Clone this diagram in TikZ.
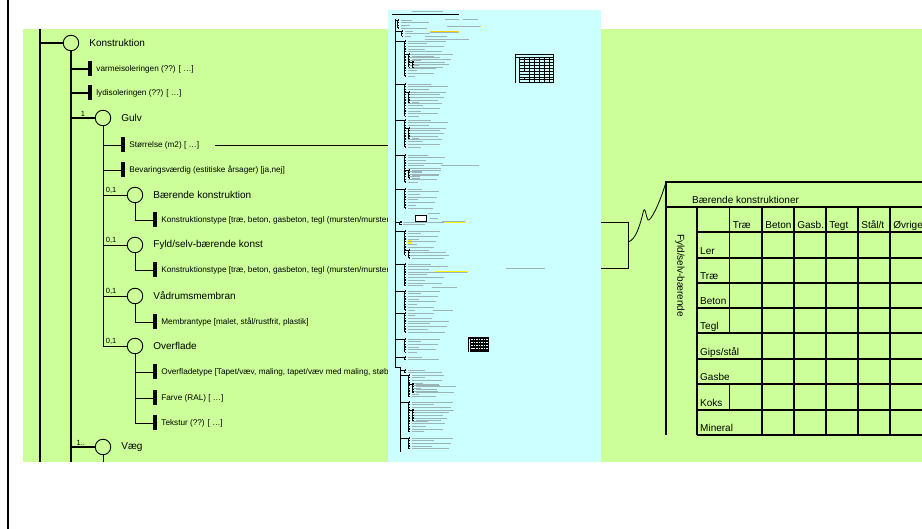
\documentclass[tikz,border=0pt]{standalone}
\usepackage{fontspec}
\setmainfont{Liberation Sans}
\usetikzlibrary{positioning}

\definecolor{diagreen}{HTML}{CCFF99}
\definecolor{thumbcyan}{HTML}{CCFFFF}
\definecolor{hilite}{HTML}{FFCC00}
\definecolor{minigrey}{HTML}{9DB4B4}

\tikzset{
  ent/.style={circle, draw, line width=0.9pt, fill=diagreen, minimum size=15.5pt, inner sep=0pt},
  attr/.style={fill=black, minimum width=4pt, minimum height=15pt, inner sep=0pt},
  ename/.style={font=\fontsize{10}{12}\selectfont, inner sep=0pt},
  aname/.style={font=\fontsize{8.2}{10}\selectfont, inner sep=0pt},
  mult/.style={font=\fontsize{7.5}{9}\selectfont, inner sep=1pt},
  trunk/.style={line width=1.6pt},
  branch/.style={line width=1.2pt},
  twig/.style={line width=0.9pt},
  tabline/.style={line width=1.3pt},
  tabtxt/.style={font=\fontsize{10}{12}\selectfont, inner sep=0pt, anchor=base west},
  thumb/.style={fill=thumbcyan, minimum width=213pt, minimum height=452pt, inner sep=0pt},
  minitree/.style={line width=0.8pt},
  minitxt/.style={draw=minigrey, line width=0.6pt},
}

% gitter til tabellen, lokale koordinater
\newcommand{\tablegrid}{%
  \draw[tabline] (0,253) -- (0,0) -- (256,0);
  \draw[tabline] (0,25) -- (256,25);
  \draw[tabline] (31,25) -- (31,253);
  \foreach \ry in {50,76,101,126,151,177,202,228,253}
    \draw[tabline] (31,\ry) -- (256,\ry);
  \draw[tabline] (63.5,25) -- (63.5,151) (63.5,202) -- (63.5,228);
  \foreach \cx in {96,128,160,192,224}
    \draw[tabline] (\cx,25) -- (\cx,253);
}

\begin{document}
\begin{tikzpicture}[x=1pt, y=-1pt]

    \useasboundingbox (0,0) rectangle (922,529);
    \clip (0,0) rectangle (922,529);

    % baggrund
    \fill[diagreen] (23,29) rectangle (922,462);
    \draw[line width=2.5pt] (8,0) -- (8,529);

    \coordinate (top) at (40,29);
    \coordinate (bot) at (40,462);

    % entiteter
    \node[ent] (konstr) at (71,43) {};
    \node[ename, right=10pt of konstr] (konstrT) {Konstruktion};
    \node[ent] (gulv) at (103,118) {};
    \node[ename, right=10pt of gulv] (gulvT) {Gulv};
    \node[ent] (baer) at (135,195) {};
    \node[ename, right=10pt of baer] (baerT) {Bærende konstruktion};
    \node[ent] (fyld) at (135,245) {};
    \node[ename, right=10pt of fyld] (fyldT) {Fyld/selv-bærende konst};
    \node[ent] (vaad) at (135,296) {};
    \node[ename, right=10pt of vaad] (vaadT) {Vådrumsmembran};
    \node[ent] (overfl) at (135,346) {};
    \node[ename, right=10pt of overfl] (overflT) {Overflade};
    \node[ent] (vaeg) at (103,447) {};
    \node[ename, right=10pt of vaeg] (vaegT) {Væg};

    % attributter
    \node[attr] (varme) at (90,69) {};
    \node[aname, right=4pt of varme] (varmeT) {varmeisoleringen (??) [ …]};
    \node[attr] (lyd) at (90,93) {};
    \node[aname, right=4pt of lyd] (lydT) {lydisoleringen (??) [ …]};
    \node[attr] (stoer) at (123,145) {};
    \node[aname, right=4pt of stoer] (stoerT) {Størrelse (m2) [ …]};
    \node[attr] (bevar) at (123,170) {};
    \node[aname, right=4pt of bevar] (bevarT) {Bevaringsværdig (estitiske årsager) [ja,nej]};
    \node[attr] (baerK) at (155,220) {};
    \node[aname, right=4pt of baerK] (baerKT) {Konstruktionstype [træ, beton, gasbeton, tegl (mursten/mursten)]};
    \node[attr] (fyldK) at (155,270) {};
    \node[aname, right=4pt of fyldK] (fyldKT) {Konstruktionstype [træ, beton, gasbeton, tegl (mursten/mursten)]};
    \node[attr] (membr) at (155,322) {};
    \node[aname, right=4pt of membr] (membrT) {Membrantype [malet, stål/rustfrit, plastik]};
    \node[attr] (oftype) at (155,372) {};
    \node[aname, right=4pt of oftype] (oftypeT) {Overfladetype [Tapet/væv, maling, tapet/væv med maling, støbning]};
    \node[attr] (farve) at (155,398) {};
    \node[aname, right=4pt of farve] (farveT) {Farve (RAL) [ …]};
    \node[attr] (tekst) at (155,423) {};
    \node[aname, right=4pt of tekst] (tekstT) {Tekstur (??) [ …]};

    % træets linjer
    \draw[trunk] (top) -- (bot);
    \draw[branch] (top |- konstr) -- (konstr);
    \draw[trunk] (konstr) -- (konstr |- bot);
    \draw[branch] (konstr.south) |- (varme.west);
    \draw[branch] (konstr.south) |- (lyd.west);
    \draw[branch] (konstr.south) |- (gulv.west) node[mult, pos=0.75, above] {1};
    \draw[branch] (konstr.south) |- (vaeg.west) node[mult, pos=0.75, above, xshift=-2pt] {1..};
    \draw[twig] (vaeg) -- (vaeg |- bot);

    \draw[twig] (gulv.south) |- (stoer.west);
    \draw[twig] (gulv.south) |- (bevar.west);
    \foreach \ent in {baer, fyld, vaad, overfl}
        \draw[twig] (gulv.south) |- (\ent.west) node[mult, pos=0.5, above right, xshift=1.5pt] {0,1};

    \draw[twig] (baer.south) |- (baerK.west);
    \draw[twig] (fyld.south) |- (fyldK.west);
    \draw[twig] (vaad.south) |- (membr.west);
    \foreach \att in {oftype, farve, tekst}
        \draw[twig] (overfl.south) |- (\att.west);

    % miniature af hele modellen
    \node[thumb] (thumb) at (494.5,236) {};
    \coordinate (sizeref) at (215,145);
    \draw[twig] (sizeref) -- (sizeref -| thumb.west);

    \draw[line width=0.6pt] (392,14) -- (459,14);
    \draw[minitxt] (412,11.5) -- (443,11.5);
    \fill[hilite] (447,25.7) rectangle (481,27.5);
    \fill[hilite] (430,31) rectangle (459,32.8);
    \fill[yellow] (442,220.8) rectangle (466,222.7);
    \fill[yellow] (435,271) rectangle (468,273.5);
    \fill[yellow] (408,240) rectangle (411.5,245);
    \foreach \sx/\sy/\sl in {445/19/14, 447/26.6/33, 430/31.9/28, 425/36/22, 425/39/44,
                             441/165/38, 442/221.7/23, 435/272.2/32, 506/268/39, 432/287/25,
                             433/310/20, 429/410/25}
        \draw[minitxt] (\sx,\sy) -- ++(\sl,0);
    \draw[minitxt] (463,19) -- (478,19);
    \draw[minitree, fill=white] (415,215) rectangle (426,221);
    \draw[minitxt] (428,213) -- ++(12,0) (430,218) -- ++(8,0);

    \draw[minitree] (395.3,19) -- (395.3,367) -- (400.3,367) -- (400.3,452);
    \foreach \px/\xb/\yt/\nr in {395.3/397.5/20/4, 395.3/401.5/31/3, 395.3/404.5/41/14,
                                 404.5/408.5/54/6, 408.5/412/62/3, 395.3/404.5/84/13,
                                 404.5/408.5/92/5, 395.3/404.5/120/11, 404.5/408.5/128/5,
                                 395.3/404.5/155/11, 404.5/408.5/170/4, 395.3/404.5/189/8,
                                 395.3/399.7/222/2, 395.3/404.5/231/10, 404.5/408.5/250/4,
                                 395.3/404.5/264/9, 395.3/404.5/291/8, 395.3/404.5/313/8,
                                 395.3/404.5/339/6, 395.3/404.5/357/2, 400.3/404.5/370/2,
                                 400.3/408.5/375/9, 408.5/412/384/4, 400.3/408.5/402/12,
                                 408.5/412/410/5, 400.3/408.5/438/5} {
        \draw[minitree] (\px,\yt) -- (\xb,\yt) -- (\xb,{\yt+2.7*(\nr-1)});
        \foreach \k in {1,...,\nr} {
            \pgfmathsetmacro{\ypos}{\yt+2.7*(\k-1)}
            \pgfmathsetmacro{\len}{6+mod(\k*17+\yt*3,36)}
            \fill (\xb,\ypos-0.7) rectangle ++(1.8,1.4);
            \draw[minitxt] (\xb+3.5,\ypos) -- ++(\len,0);
        }
    }

    % små tabeller i miniaturen
    \begin{scope}[shift={(515,54)}, xscale=0.151, yscale=0.113, tabline/.style={line width=0.6pt}]
        \tablegrid
        \draw[tabline] (256,0) -- (256,253);
    \end{scope}
    \begin{scope}[shift={(468.3,337.3)}, xscale=0.076, yscale=0.057, tabline/.style={line width=0.5pt}]
        \tablegrid
        \draw[tabline] (256,0) -- (256,253);
    \end{scope}

    % henvisning til tabellen
    \coordinate (brtop) at (628,222);
    \coordinate (brbot) at (628,268);
    \coordinate (brk) at (628,242);
    \coordinate (tbl) at (666,182);
    \draw[line width=0.8pt] (thumb.east |- brtop) -- (brtop) -- (brbot) -- (thumb.east |- brbot);
    \draw[line width=0.8pt] (brk) .. controls (636,240) and (640,225) .. (643.5,211)
        .. controls (645.5,205) and (646.5,222) .. (649,220)
        .. controls (654,216) and (662,196) .. (tbl);

    % tabel
    \begin{scope}[shift={(tbl)}]
        \tablegrid
    \end{scope}
    \node[tabtxt] (tabtitle) at (692,203.5) {Bærende konstruktioner};
    \node[tabtxt, anchor=west, rotate=-90] (tabside) at (680,234) {Fyld/selv-bærende};
    \foreach \cx/\htxt [count=\cc] in {729.5/Træ, 762/Beton, 794/Gasb., 826/Tegt, 858/{Stål/t}, 890/Øvrige}
        \node[tabtxt] (head\cc) at (\cx+3.2,229) {\htxt};
    \foreach \ry/\rtxt [count=\rr] in {255/Ler, 280/Træ, 305/Beton, 330/Tegl, 356/{Gips/stål},
                                    381/Gasbe, 407/Koks, 432/Mineral}
        \node[tabtxt] (row\rr) at (700,\ry) {\rtxt};

\end{tikzpicture}
\end{document}
